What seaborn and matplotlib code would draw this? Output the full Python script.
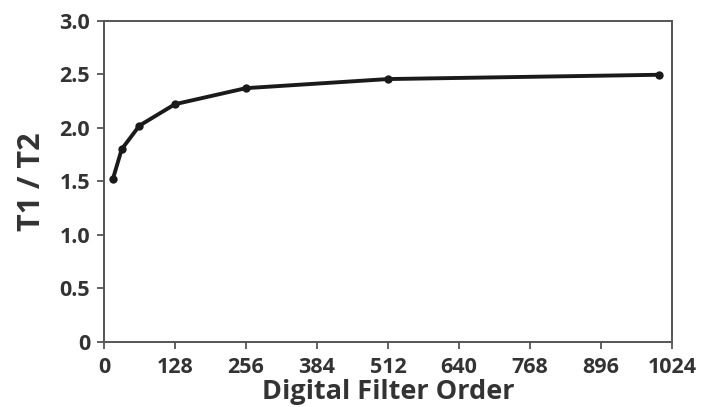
import matplotlib
matplotlib.use('Agg')
import matplotlib.pyplot as plt
import seaborn as sns
import pandas as pd

# Values
filter_order = [16, 32, 64, 128, 256, 512, 1000]
t1_t2 = [1.52, 1.80, 2.02, 2.22, 2.37, 2.455, 2.495]

x_ticks = [0, 128, 256, 384, 512, 640, 768, 896, 1024]
y_ticks = [0, 0.5, 1.0, 1.5, 2.0, 2.5, 3.0]
y_tick_labels = ['0', '0.5', '1.0', '1.5', '2.0', '2.5', '3.0']

df = pd.DataFrame({'order': filter_order, 'ratio': t1_t2})

sns.set_style('ticks')
plt.rcParams['font.family'] = ['Open Sans', 'DejaVu Sans']

fig = plt.figure(figsize=(7.05, 4.07), dpi=100)
ax = fig.add_axes([0.1475, 0.1605, 0.8055, 0.7885])

sns.lineplot(data=df, x='order', y='ratio', ax=ax, color='#1a1a1a',
             linewidth=2.8, marker='o', markersize=6, markeredgewidth=0)

ax.set_xlim(0, 1024)
ax.set_ylim(0, 3.0)
ax.set_xticks(x_ticks)
ax.set_yticks(y_ticks)
ax.set_yticklabels(y_tick_labels)

for side in ['left', 'right', 'top', 'bottom']:
    ax.spines[side].set_color('#555555')
    ax.spines[side].set_linewidth(1.4)

ax.tick_params(axis='both', direction='out', length=5, width=1.3,
               color='#555555', labelsize=15.5, labelcolor='#333333')
ax.tick_params(axis='x', pad=6)
ax.tick_params(axis='y', pad=5)
for lbl in ax.get_xticklabels() + ax.get_yticklabels():
    lbl.set_fontweight('bold')

ax.set_xlabel('Digital Filter Order', fontsize=19.5, fontweight='bold',
              color='#333333', labelpad=1)
ax.set_ylabel('T1 / T2', fontsize=22, fontweight='bold',
              color='#333333', labelpad=9)

fig.savefig('out.png', dpi=100)
